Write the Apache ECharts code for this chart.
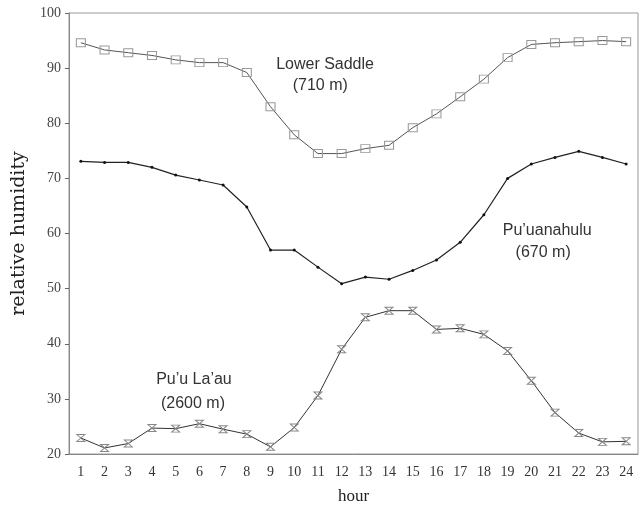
<!DOCTYPE html>
<html>
<head>
<meta charset="utf-8">
<script src="https://cdn.jsdelivr.net/npm/echarts@6/dist/echarts.min.js"></script>
<style>html,body{margin:0;padding:0;background:#fff}#c{width:641px;height:510px}</style>
</head>
<body>
<div id="c"></div>
<script>
var hours = ['1','2','3','4','5','6','7','8','9','10','11','12','13','14','15','16','17','18','19','20','21','22','23','24'];
var lowerSaddle = [94.6,93.3,92.8,92.3,91.5,91.0,91.0,89.2,83.0,77.9,74.5,74.5,75.4,76.0,79.2,81.7,84.8,88.0,91.9,94.3,94.6,94.8,95.0,94.8];
var puuanahulu = [73.1,72.9,72.9,72.0,70.6,69.7,68.8,64.8,57.0,57.0,53.9,50.9,52.1,51.7,53.3,55.2,58.4,63.4,70.0,72.6,73.8,74.9,73.8,72.6];
var puuLaau = [22.9,21.1,21.9,24.7,24.6,25.5,24.5,23.6,21.3,24.8,30.6,39.0,44.8,46.0,46.0,42.6,42.8,41.7,38.7,33.3,27.5,23.8,22.2,22.3];
var yTicks = [20,30,40,50,60,70,80,90,100];
// annotation texts with their position in data units (hour, humidity)
var noteText = ['Lower Saddle','(710 m)','Pu\u2019uanahulu','(670 m)','Pu\u2019u La\u2019au','(2600 m)'];
var noteHour = [11.3,11.1,20.67,20.5,5.77,5.73];
var noteValue = [90.7,86.9,60.5,56.6,33.5,29.1];

var chart = echarts.init(document.getElementById('c'), null, {renderer:'canvas'});
var serif = 'Liberation Serif';
var option = {
  animation:false,
  backgroundColor:'#fff',
  grid:{left:69, top:13, right:3, bottom:51, show:true, borderColor:'#999', borderWidth:1, backgroundColor:'transparent'},
  xAxis:{
    type:'category', data:hours, boundaryGap:true,
    name:'hour', nameLocation:'middle', nameGap:34,
    nameTextStyle:{fontFamily:serif, fontSize:17, color:'#222'},
    axisLine:{lineStyle:{color:'#888', width:1}},
    axisTick:{alignWithLabel:true, length:5, inside:false, lineStyle:{color:'#666'}},
    axisLabel:{fontFamily:serif, fontSize:14, color:'#333', margin:11, interval:0},
    splitLine:{show:false}
  },
  yAxis:{
    type:'value', min:20, max:100, interval:10,
    name:'relative humidity', nameLocation:'middle', nameGap:40,
    nameTextStyle:{fontFamily:'DejaVu Serif', fontSize:19, color:'#222'},
    axisLine:{show:true, lineStyle:{color:'#888', width:1}},
    axisTick:{show:true, length:4, inside:false, lineStyle:{color:'#666'}},
    axisLabel:{fontFamily:serif, fontSize:14, color:'#444', margin:8,
      formatter:function(v){return yTicks.indexOf(v)>=0 ? String(v) : '';}},
    splitLine:{show:false}
  },
  series:[
    {type:'line', name:'Lower Saddle', data:lowerSaddle,
     symbol:'rect', symbolSize:[9,8], showAllSymbol:true,
     itemStyle:{color:'rgba(255,255,255,0)', borderColor:'#999', borderWidth:1},
     lineStyle:{color:'#555', width:1}},
    {type:'line', name:'Pu\u2019uanahulu', data:puuanahulu,
     symbol:'circle', symbolSize:3, showAllSymbol:true,
     itemStyle:{color:'#111', borderWidth:0},
     lineStyle:{color:'#222', width:1.2}},
    {type:'line', name:'Pu\u2019u La\u2019au', data:puuLaau,
     symbol:'path://M0,0L10,0L0,10L10,10Z', symbolSize:[8,7], showAllSymbol:true,
     itemStyle:{color:'rgba(255,255,255,0)', borderColor:'#888', borderWidth:1},
     lineStyle:{color:'#333', width:1}}
  ]
};
chart.setOption(option);

// place annotations through the chart's own scales
var p0 = chart.convertToPixel({xAxisIndex:0, yAxisIndex:0}, [0, 20]);
var p1 = chart.convertToPixel({xAxisIndex:0, yAxisIndex:0}, [23, 100]);
var graphics = [];
for (var i = 0; i < noteText.length; i++) {
  var fx = p0[0] + (noteHour[i] - 1) / 23 * (p1[0] - p0[0]);
  var fy = chart.convertToPixel({yAxisIndex:0}, noteValue[i]);
  graphics.push({type:'text', x:fx, y:fy, style:{text:noteText[i], fill:'#333',
    font:'16px "Liberation Sans"', textAlign:'center', textVerticalAlign:'middle'}});
}
chart.setOption({graphic:graphics});
</script>
</body>
</html>
